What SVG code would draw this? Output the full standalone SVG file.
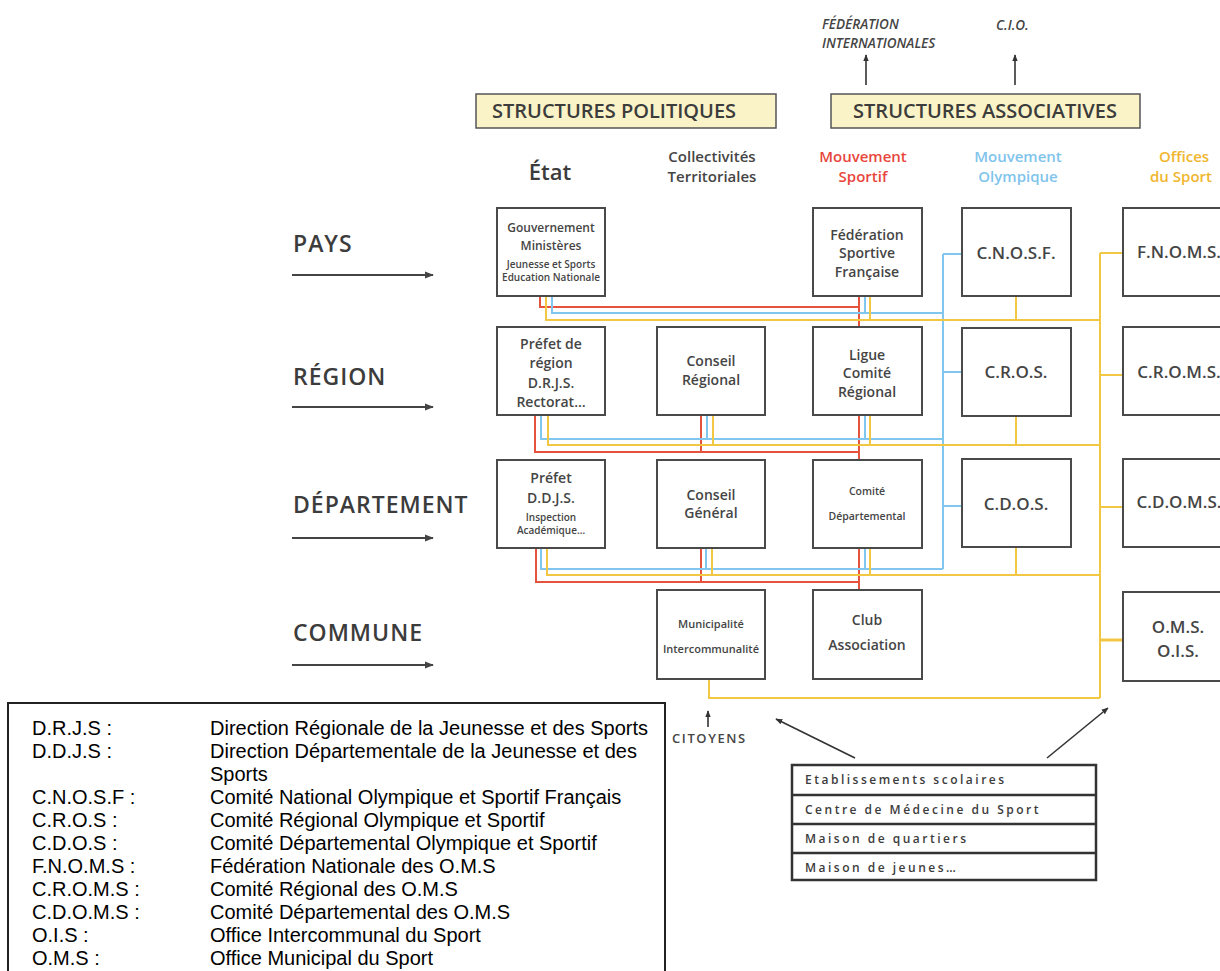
<svg xmlns="http://www.w3.org/2000/svg" width="1220" height="971" viewBox="0 0 1220 971">
<defs>
<marker id="ah" viewBox="0 0 10 10" refX="9" refY="5" markerWidth="7" markerHeight="7" markerUnits="userSpaceOnUse" orient="auto"><path d="M0,1 L10,5 L0,9 z" fill="#333"/></marker>
<marker id="ah2" viewBox="0 0 10 10" refX="9" refY="5" markerWidth="9" markerHeight="9" markerUnits="userSpaceOnUse" orient="auto"><path d="M0,1 L10,5 L0,9 z" fill="#444"/></marker>
</defs>
<style>
.t{font-family:"Open Sans","Noto Sans",sans-serif;font-weight:600;fill:#454545;text-anchor:middle}
.n{fill:#fff;stroke:#4a4a4a;stroke-width:2}
.r{stroke:#e5533d;stroke-width:2;fill:none}
.b{stroke:#80c6ee;stroke-width:2;fill:none}
.y{stroke:#f2c744;stroke-width:2;fill:none}
.a{stroke:#333;stroke-width:1.6;fill:none;marker-end:url(#ah)}
.ra{stroke:#444;stroke-width:2;fill:none;marker-end:url(#ah2)}
.hb{fill:#fbf3c8;stroke:#555;stroke-width:1.5}
.lg{font-family:"Liberation Sans",Arial,sans-serif;font-size:20px;fill:#000}
.big{font-size:14px}
.sm{font-size:10px}
.ab{font-size:17px}
.ch{font-size:15px}
.rl{font-family:"Open Sans","Noto Sans",sans-serif;font-weight:600;font-size:23px;fill:#3c3c3c;letter-spacing:1px}
.it{font-family:"Open Sans","Noto Sans",sans-serif;font-style:italic;font-weight:600;font-size:13.5px;fill:#444}
</style>
<rect width="1220" height="971" fill="#fff"/>

<g id="international">
<text class="it" x="822" y="29">FÉDÉRATION</text>
<text class="it" x="822" y="48">INTERNATIONALES</text>
<text class="it" x="996" y="30">C.I.O.</text>
</g>

<g id="structures-politiques">
<rect class="hb" x="476" y="94" width="300" height="34"/>
<text class="t" x="492" y="118" style="font-size:20px;text-anchor:start;fill:#3c3c3c">STRUCTURES POLITIQUES</text>
</g>
<g id="structures-associatives">
<rect class="hb" x="831" y="94" width="309" height="34"/>
<text class="t" x="985" y="118" style="font-size:20px;fill:#3c3c3c">STRUCTURES ASSOCIATIVES</text>
</g>

<g id="col-etat"><text class="t" x="550" y="180" style="font-size:22px;fill:#3c3c3c">État</text></g>
<g id="col-collectivites"><text class="t ch" x="712" y="162">Collectivités</text><text class="t ch" x="712" y="182">Territoriales</text></g>
<g id="col-sportif"><text class="t ch" x="863" y="162" style="fill:#e8463c">Mouvement</text><text class="t ch" x="863" y="182" style="fill:#e8463c">Sportif</text></g>
<g id="col-olympique"><text class="t ch" x="1018" y="162" style="fill:#7fc4ec">Mouvement</text><text class="t ch" x="1018" y="182" style="fill:#7fc4ec">Olympique</text></g>
<g id="col-offices"><text class="t ch" x="1184" y="162" style="fill:#f0b62e">Offices</text><text class="t ch" x="1181" y="182" style="fill:#f0b62e">du Sport</text></g>

<g id="row-pays"><text class="rl" x="293" y="252">PAYS</text></g>
<g id="row-region"><text class="rl" x="293" y="385">RÉGION</text></g>
<g id="row-departement"><text class="rl" x="293" y="513">DÉPARTEMENT</text></g>
<g id="row-commune"><text class="rl" x="293" y="641">COMMUNE</text></g>

<g id="connectors">
<path class="r" d="M540,296 V307 H859 M859,296 V327"/>
<path class="r" d="M535,415 V452 H859 M701,415 V452 M859,415 V460"/>
<path class="r" d="M536,548 V582 H859 M701,548 V582 M859,548 V590"/>
<path class="b" d="M552,296 V313 H943 M865,296 V313"/>
<path class="b" d="M541,415 V439 H943 M707,415 V439 M865,415 V439"/>
<path class="b" d="M541,548 V569 H943 M706,548 V569 M865,548 V569"/>
<path class="b" d="M943,254 V569 M943,254 H962 M943,372 H962 M943,506 H962"/>
<path class="y" d="M546,296 V320 H1100 M870,296 V320 M1016,296 V320"/>
<path class="y" d="M548,415 V445 H1100 M713,415 V445 M870,415 V445 M1016,416 V445"/>
<path class="y" d="M547,548 V575 H1100 M712,548 V575 M870,548 V575 M1016,547 V575"/>
<path class="y" d="M709,679 V698 H1100"/>
<path class="y" d="M1100,253 V698 M1100,253 H1123 M1100,375 H1123 M1100,507 H1123"/>
<path class="y" style="stroke-width:3" d="M1100,640 H1123"/>
<path class="a" d="M866,85 V55"/>
<path class="a" d="M1015,85 V55"/>
<path class="ra" d="M292,275 H433"/>
<path class="ra" d="M292,407 H433"/>
<path class="ra" d="M292,538 H433"/>
<path class="ra" d="M292,665 H433"/>
<path class="a" d="M708,727 V711"/>
<path class="a" d="M855,758 L776,719"/>
<path class="a" d="M1047,758 L1108,708"/>
</g>

<g id="gouvernement">
<rect class="n" x="497" y="208" width="108" height="88"/>
<text class="t" x="551" y="232" style="font-size:12px">Gouvernement</text>
<text class="t" x="551" y="250" style="font-size:12px">Ministères</text>
<text class="t sm" x="551" y="268">Jeunesse et Sports</text>
<text class="t sm" x="551" y="281">Education Nationale</text>
</g>
<g id="prefet-region">
<rect class="n" x="497" y="327" width="108" height="88"/>
<text class="t big" x="551" y="349">Préfet de</text>
<text class="t big" x="551" y="368">région</text>
<text class="t big" x="551" y="388">D.R.J.S.</text>
<text class="t big" x="551" y="407">Rectorat…</text>
</g>
<g id="prefet-ddjs">
<rect class="n" x="497" y="460" width="108" height="88"/>
<text class="t big" x="551" y="483">Préfet</text>
<text class="t big" x="551" y="503">D.D.J.S.</text>
<text class="t sm" x="551" y="521">Inspection</text>
<text class="t sm" x="551" y="534">Académique…</text>
</g>
<g id="conseil-regional">
<rect class="n" x="657" y="327" width="108" height="88"/>
<text class="t big" x="711" y="366">Conseil</text>
<text class="t big" x="711" y="385">Régional</text>
</g>
<g id="conseil-general">
<rect class="n" x="657" y="460" width="108" height="88"/>
<text class="t big" x="711" y="500">Conseil</text>
<text class="t big" x="711" y="518">Général</text>
</g>
<g id="municipalite">
<rect class="n" x="657" y="590" width="108" height="89"/>
<text class="t" x="711" y="628" style="font-size:11px">Municipalité</text>
<text class="t" x="711" y="653" style="font-size:11px">Intercommunalité</text>
</g>
<g id="federation-sportive">
<rect class="n" x="813" y="208" width="109" height="88"/>
<text class="t big" x="867" y="240">Fédération</text>
<text class="t big" x="867" y="258">Sportive</text>
<text class="t big" x="867" y="277">Française</text>
</g>
<g id="ligue">
<rect class="n" x="813" y="327" width="109" height="88"/>
<text class="t big" x="867" y="360">Ligue</text>
<text class="t big" x="867" y="378">Comité</text>
<text class="t big" x="867" y="397">Régional</text>
</g>
<g id="comite-departemental">
<rect class="n" x="813" y="460" width="109" height="88"/>
<text class="t" x="867" y="495" style="font-size:10.5px">Comité</text>
<text class="t" x="867" y="520" style="font-size:10.5px">Départemental</text>
</g>
<g id="club">
<rect class="n" x="813" y="590" width="109" height="89"/>
<text class="t big" x="867" y="625">Club</text>
<text class="t big" x="867" y="650">Association</text>
</g>
<g id="cnosf">
<rect class="n" x="962" y="208" width="109" height="88"/>
<text class="t ab" x="1016" y="259">C.N.O.S.F.</text>
</g>
<g id="cros">
<rect class="n" x="962" y="328" width="109" height="88"/>
<text class="t ab" x="1016" y="378">C.R.O.S.</text>
</g>
<g id="cdos">
<rect class="n" x="962" y="459" width="109" height="88"/>
<text class="t ab" x="1016" y="510">C.D.O.S.</text>
</g>
<g id="fnoms">
<rect class="n" x="1123" y="208" width="120" height="88"/>
<text class="t ab" x="1179" y="258">F.N.O.M.S.</text>
</g>
<g id="croms">
<rect class="n" x="1123" y="327" width="120" height="88"/>
<text class="t ab" x="1179" y="378">C.R.O.M.S.</text>
</g>
<g id="cdoms">
<rect class="n" x="1123" y="459" width="120" height="88"/>
<text class="t ab" x="1179" y="508">C.D.O.M.S.</text>
</g>
<g id="oms-ois">
<rect class="n" x="1123" y="592" width="120" height="89"/>
<text class="t ab" x="1178" y="633">O.M.S.</text>
<text class="t ab" x="1178" y="657">O.I.S.</text>
</g>

<g id="citoyens"><text class="t" x="672" y="743" style="font-size:13px;text-anchor:start;letter-spacing:1.6px">CITOYENS</text></g>

<g id="etablissements">
<rect x="792" y="765" width="304" height="115" fill="#fff" stroke="#333" stroke-width="2.5"/>
<path d="M792,795 H1096 M792,824 H1096 M792,853 H1096" stroke="#333" stroke-width="2.5"/>
<g class="t" style="font-size:12px;text-anchor:start;letter-spacing:2.5px;fill:#3c3c3c">
<text x="805" y="784">Etablissements scolaires</text>
<text x="805" y="814">Centre de Médecine du Sport</text>
<text x="805" y="843">Maison de quartiers</text>
<text x="805" y="872">Maison de jeunes…</text>
</g>
</g>

<g id="legende">
<path d="M8,975 V703 H665 V975" fill="none" stroke="#222" stroke-width="2"/>
<text class="lg" x="32" y="735">D.R.J.S :</text><text class="lg" x="210" y="735">Direction Régionale de la Jeunesse et des Sports</text>
<text class="lg" x="32" y="758">D.D.J.S :</text><text class="lg" x="210" y="758">Direction Départementale de la Jeunesse et des</text>
<text class="lg" x="210" y="781">Sports</text>
<text class="lg" x="32" y="804">C.N.O.S.F :</text><text class="lg" x="210" y="804">Comité National Olympique et Sportif Français</text>
<text class="lg" x="32" y="827">C.R.O.S :</text><text class="lg" x="210" y="827">Comité Régional Olympique et Sportif</text>
<text class="lg" x="32" y="850">C.D.O.S :</text><text class="lg" x="210" y="850">Comité Départemental Olympique et Sportif</text>
<text class="lg" x="32" y="873">F.N.O.M.S :</text><text class="lg" x="210" y="873">Fédération Nationale des O.M.S</text>
<text class="lg" x="32" y="896">C.R.O.M.S :</text><text class="lg" x="210" y="896">Comité Régional des O.M.S</text>
<text class="lg" x="32" y="919">C.D.O.M.S :</text><text class="lg" x="210" y="919">Comité Départemental des O.M.S</text>
<text class="lg" x="32" y="942">O.I.S :</text><text class="lg" x="210" y="942">Office Intercommunal du Sport</text>
<text class="lg" x="32" y="965">O.M.S :</text><text class="lg" x="210" y="965">Office Municipal du Sport</text>
</g>
</svg>
